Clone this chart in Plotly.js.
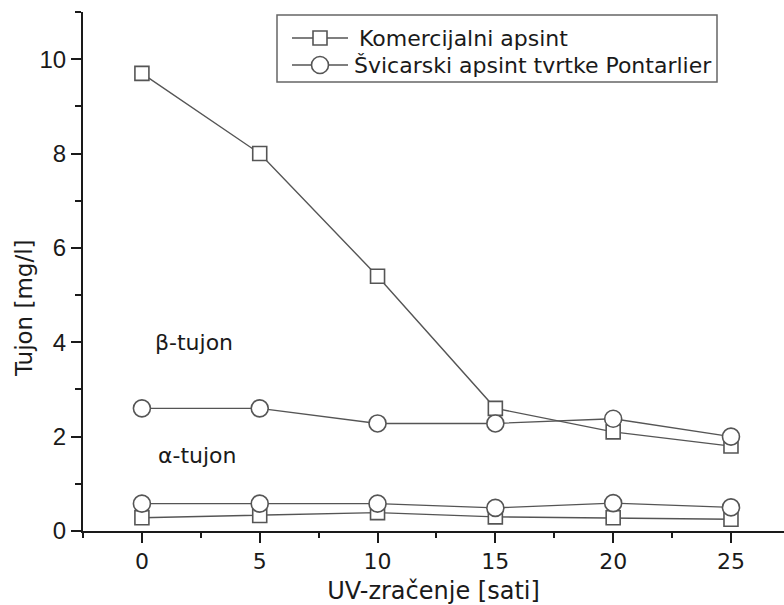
<!DOCTYPE html>
<html>
<head>
<meta charset="utf-8">
<script src="https://cdn.plot.ly/plotly-3.0.1.min.js"></script>
<style>html,body{margin:0;padding:0;background:#fff;}#chart{width:784px;height:605px;}</style>
</head>
<body>
<div id="chart"></div>
<script>
var hours = [0, 5, 10, 15, 20, 25];
var komercijalniBeta = [9.7, 8.0, 5.4, 2.6, 2.1, 1.8];
var komercijalniAlpha = [0.28, 0.33, 0.39, 0.30, 0.28, 0.25];
var svicarskiBeta = [2.6, 2.6, 2.28, 2.28, 2.38, 2.0];
var svicarskiAlpha = [0.58, 0.58, 0.58, 0.49, 0.59, 0.5];
var seriesNames = ['Komercijalni apsint', 'Švicarski apsint tvrtke Pontarlier'];

var lineCol = '#555555';
function tr(y, name, symbol, size) {
  return {
    x: hours, y: y, name: name, type: 'scatter', mode: 'lines+markers',
    showlegend: false,
    line: {color: lineCol, width: 1.4},
    marker: {symbol: symbol, size: size, color: '#ffffff', line: {color: lineCol, width: 1.6}}
  };
}
var data = [
  tr(komercijalniBeta, seriesNames[0], 'square', 14),
  tr(komercijalniAlpha, seriesNames[0], 'square', 14),
  tr(svicarskiBeta, seriesNames[1], 'circle', 17),
  tr(svicarskiAlpha, seriesNames[1], 'circle', 17)
];

// plot-area geometry (pixels) used to place the hand-made legend box
var M = {l: 83, r: 0, t: 12, b: 74};
var W = 784, H = 605;
var pw = W - M.l - M.r, ph = H - M.t - M.b;
function px(x) { return (x - M.l) / pw; }
function py(y) { return (H - M.b - y) / ph; }

var font = 'DejaVu Sans, Verdana, sans-serif';
var shapes = [
  {type: 'rect', xref: 'paper', yref: 'paper', x0: px(277), x1: px(717), y0: py(82), y1: py(15),
   line: {color: '#666', width: 1.5}, fillcolor: 'rgba(0,0,0,0)'}
];
var rows = [38, 65];
rows.forEach(function (ry, i) {
  shapes.push({type: 'line', xref: 'paper', yref: 'paper', x0: px(292), x1: px(348), y0: py(ry), y1: py(ry),
    line: {color: lineCol, width: 1.4}});
  var h = i === 0 ? 7 : 8.5;
  shapes.push({type: i === 0 ? 'rect' : 'circle', xref: 'paper', yref: 'paper',
    x0: px(320 - h), x1: px(320 + h), y0: py(ry + h), y1: py(ry - h),
    line: {color: lineCol, width: 1.6}, fillcolor: '#fff'});
});

var layout = {
  width: W, height: H,
  margin: M,
  paper_bgcolor: '#fff', plot_bgcolor: '#fff',
  font: {family: font, color: '#1a1a1a', size: 22},
  showlegend: false,
  xaxis: {
    range: [-2.5, 27.25], tick0: 0, dtick: 5, showgrid: false, zeroline: false,
    showline: true, linecolor: '#1a1a1a', linewidth: 2,
    ticks: 'outside', ticklen: 10, tickwidth: 2, tickcolor: '#1a1a1a',
    minor: {dtick: 2.5, ticklen: 5, tickwidth: 2, tickcolor: '#1a1a1a', ticks: 'outside'},
    tickfont: {family: font, size: 22},
    title: {text: 'UV-zračenje [sati]', font: {family: font, size: 24}, standoff: 11}
  },
  yaxis: {
    range: [0, 11], tick0: 0, dtick: 2, showgrid: false, zeroline: false,
    showline: true, linecolor: '#1a1a1a', linewidth: 2,
    ticks: 'outside', ticklen: 10, tickwidth: 2, tickcolor: '#1a1a1a',
    minor: {dtick: 1, ticklen: 6, tickwidth: 2, tickcolor: '#1a1a1a', ticks: 'outside'},
    tickfont: {family: 'Liberation Sans, Arial, sans-serif', size: 24}
  },
  shapes: shapes,
  annotations: [
    {text: seriesNames[0], xref: 'paper', yref: 'paper', x: px(357), y: py(38),
     xanchor: 'left', yanchor: 'middle', showarrow: false, font: {family: font, size: 22}},
    {text: seriesNames[1], xref: 'paper', yref: 'paper', x: px(352), y: py(65),
     xanchor: 'left', yanchor: 'middle', showarrow: false, font: {family: font, size: 22}},
    {text: 'Tujon [mg/l]', xref: 'paper', yref: 'paper', x: px(24), y: py(308),
     xanchor: 'center', yanchor: 'middle', textangle: -90, showarrow: false,
     font: {family: font, size: 23}},
    {text: 'β-tujon', xref: 'x', yref: 'y', x: 2.2, y: 4.0, showarrow: false,
     font: {family: font, size: 22}},
    {text: 'α-tujon', xref: 'x', yref: 'y', x: 2.35, y: 1.6, showarrow: false,
     font: {family: font, size: 22}}
  ]
};
Plotly.newPlot('chart', data, layout, {displayModeBar: false, staticPlot: true});
</script>
</body>
</html>
